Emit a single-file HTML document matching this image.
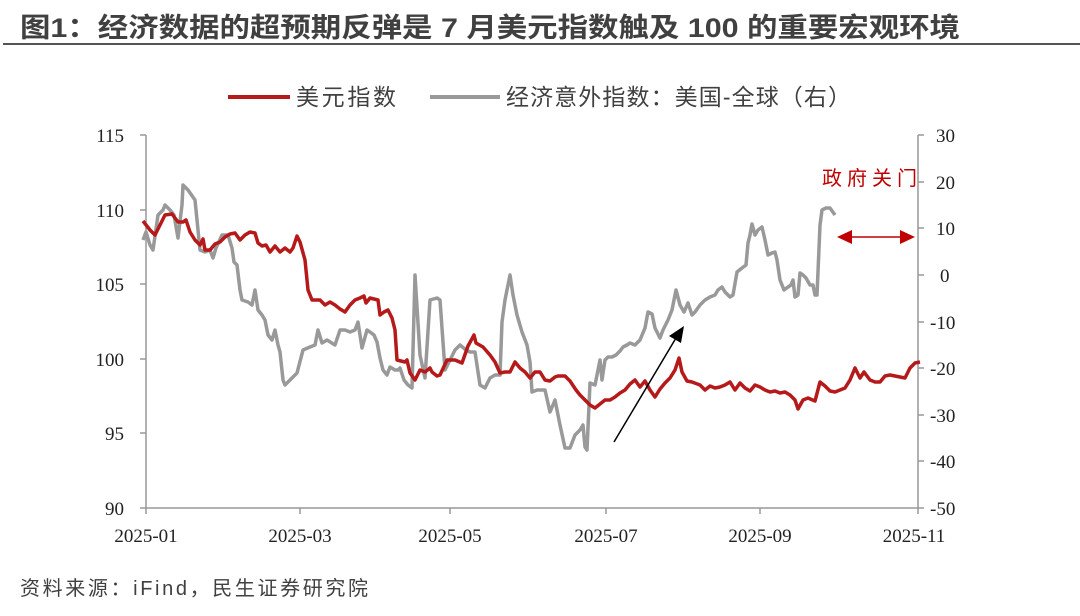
<!DOCTYPE html>
<html><head><meta charset="utf-8"><style>
body{margin:0;background:#fff;width:1080px;height:611px;overflow:hidden;font-family:"Liberation Sans","Noto Sans CJK SC",sans-serif;}
</style></head><body>
<svg width="1080" height="611" xmlns="http://www.w3.org/2000/svg" font-family="Liberation Sans, Noto Sans CJK SC, sans-serif">
<text x="20" y="37" font-size="27" font-weight="bold" fill="#404040" textLength="940" lengthAdjust="spacingAndGlyphs">图1：经济数据的超预期反弹是 7 月美元指数触及 100 的重要宏观环境</text>
<line x1="3" y1="44" x2="1080" y2="44" stroke="#555" stroke-width="2"/>
<line x1="228" y1="97" x2="290" y2="97" stroke="#b5191a" stroke-width="4"/>
<text x="296" y="105" font-size="23" fill="#404040" textLength="100">美元指数</text>
<line x1="430" y1="97" x2="500" y2="97" stroke="#999" stroke-width="4"/>
<text x="506" y="105" font-size="23" fill="#404040" textLength="345">经济意外指数：美国-全球（右）</text>
<g stroke="#999" stroke-width="1.5" fill="none">
<line x1="146" y1="135" x2="146" y2="508"/><line x1="918" y1="135" x2="918" y2="508"/><line x1="146" y1="508" x2="918" y2="508"/>
</g>
<g stroke="#999" stroke-width="1.5">
<line x1="140" y1="135" x2="146" y2="135"/><line x1="140" y1="210" x2="146" y2="210"/><line x1="140" y1="284" x2="146" y2="284"/><line x1="140" y1="359" x2="146" y2="359"/><line x1="140" y1="433" x2="146" y2="433"/><line x1="140" y1="508" x2="146" y2="508"/>
<line x1="918" y1="135" x2="924" y2="135"/><line x1="918" y1="182" x2="924" y2="182"/><line x1="918" y1="228" x2="924" y2="228"/><line x1="918" y1="275" x2="924" y2="275"/><line x1="918" y1="322" x2="924" y2="322"/><line x1="918" y1="368" x2="924" y2="368"/><line x1="918" y1="415" x2="924" y2="415"/><line x1="918" y1="461" x2="924" y2="461"/><line x1="918" y1="508" x2="924" y2="508"/>
<line x1="146" y1="508" x2="146" y2="514"/><line x1="300" y1="508" x2="300" y2="514"/><line x1="450" y1="508" x2="450" y2="514"/><line x1="606" y1="508" x2="606" y2="514"/><line x1="760" y1="508" x2="760" y2="514"/><line x1="918" y1="508" x2="918" y2="514"/>
</g>
<g font-size="19" fill="#222" font-family="Liberation Serif, serif" text-anchor="end">
<text x="124" y="142">115</text><text x="124" y="217">110</text><text x="124" y="291">105</text><text x="124" y="366">100</text><text x="124" y="440">95</text><text x="124" y="515">90</text>
</g>
<g font-size="19" fill="#222" font-family="Liberation Serif, serif">
<text x="936" y="142">30</text><text x="936" y="189">20</text><text x="936" y="235">10</text><text x="940" y="282">0</text><text x="930" y="329">-10</text><text x="930" y="375">-20</text><text x="930" y="422">-30</text><text x="930" y="468">-40</text><text x="930" y="515">-50</text>
</g>
<g font-size="19" fill="#222" font-family="Liberation Serif, serif" text-anchor="middle">
<text x="146" y="542">2025-01</text><text x="300" y="542">2025-03</text><text x="450" y="542">2025-05</text><text x="606" y="542">2025-07</text><text x="760" y="542">2025-09</text><text x="914" y="542">2025-11</text>
</g>
<polyline fill="none" stroke="#999" stroke-width="3.5" stroke-linejoin="round" points="143,240 146,232 150,245 153,250 158,215 163,210 165,205 170,210 174,215 178,238 182,205 183,185 188,190 195,200 200,250 205,252 210,250 213,258 216,248 222,235 228,235 232,248 234,262 237,265 240,290 242,300 248,302 252,305 255,290 258,310 262,315 265,320 268,335 272,340 275,330 278,345 280,352 283,380 285,385 290,380 297,373 303,350 310,347 315,345 318,330 322,343 327,340 335,345 340,330 345,330 350,332 355,330 358,322 362,348 367,330 370,332 374,335 377,342 380,358 383,370 387,375 390,367 395,370 398,370 400,368 404,380 408,385 412,388 415,275 420,355 425,378 430,300 437,298 440,300 445,370 450,360 455,350 460,345 466,350 470,352 475,352 480,385 485,388 490,378 495,375 500,375 502,322 505,300 510,275 513,295 517,315 522,332 527,345 530,362 532,392 537,390 545,390 550,412 555,400 560,425 565,448 570,448 575,435 580,430 583,425 585,447 587,450 590,383 595,385 600,360 602,380 605,360 608,357 612,357 616,355 620,351 623,347 627,345 630,343 635,345 640,340 645,328 648,312 652,314 655,328 660,338 663,330 668,320 672,310 676,290 680,305 684,312 688,303 692,315 695,312 700,305 705,300 710,297 715,295 718,290 722,287 725,292 730,297 733,295 737,272 742,268 746,265 748,243 750,235 752,224 755,235 758,230 762,227 765,240 768,255 772,253 775,252 777,260 780,280 784,290 788,287 791,285 793,280 795,297 798,295 800,273 803,275 806,278 810,285 813,285 815,295 817,295 820,225 822,210 826,208 830,208 835,215"/>
<polyline fill="none" stroke="#b5191a" stroke-width="3.5" stroke-linejoin="round" points="143,221 150,230 155,235 160,225 165,215 172,214 178,222 183,222 186,220 190,232 195,240 200,245 203,239 205,250 210,250 215,244 220,242 225,237 230,234 235,233 240,240 245,235 250,232 255,233 258,243 262,246 266,245 270,252 275,246 280,252 285,248 290,252 293,248 297,236 300,242 305,260 308,290 312,300 320,300 325,305 330,302 335,305 340,309 345,312 350,305 355,300 360,298 364,296 366,303 370,298 378,300 380,315 384,312 388,310 392,318 395,330 397,360 405,362 407,360 410,373 415,380 420,370 425,372 430,368 432,372 437,376 440,375 447,360 455,360 462,363 468,346 474,335 476,343 483,347 490,355 495,362 500,373 505,372 510,372 515,362 520,368 525,372 530,378 535,372 540,372 545,380 550,381 555,377 558,376 565,376 570,381 576,390 580,395 585,400 590,405 595,408 600,404 605,400 610,400 615,397 620,393 625,390 630,384 635,380 640,387 645,381 650,390 655,397 660,389 665,383 670,378 675,370 679,358 682,372 687,381 692,382 700,385 705,390 710,386 715,388 720,387 725,385 730,382 735,390 740,383 745,388 750,391 755,385 760,387 765,390 770,392 775,391 780,393 785,392 790,395 795,400 798,409 803,400 808,398 815,401 820,382 825,386 830,391 835,392 840,390 845,388 850,380 855,368 858,374 860,378 864,372 870,380 875,382 880,382 885,376 890,375 895,376 900,377 905,378 910,368 915,363 920,362"/>
<line x1="614" y1="442" x2="676" y2="338" stroke="#000" stroke-width="1.5"/>
<polygon points="684,326 669,336 681,343" fill="#000"/>
<line x1="848" y1="237" x2="904" y2="237" stroke="#c00000" stroke-width="1.5"/>
<polygon points="837,237 852,230 852,244" fill="#c00000"/>
<polygon points="915,237 900,230 900,244" fill="#c00000"/>
<text x="822" y="185" font-size="20" fill="#c00000" textLength="95">政府关门</text>
<text x="20" y="595" font-size="20" fill="#404040" textLength="348">资料来源：iFind，民生证券研究院</text>
</svg>
</body></html>
